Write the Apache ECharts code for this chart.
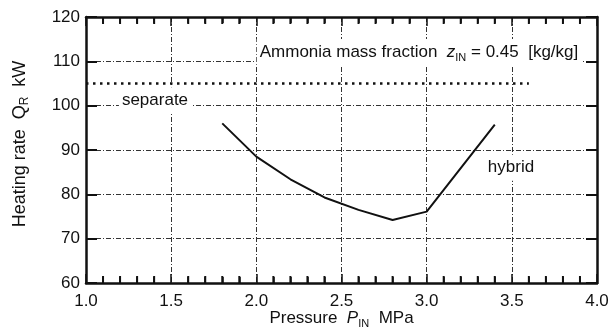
<!DOCTYPE html>
<html>
<head>
<meta charset="utf-8">
<script src="https://cdn.jsdelivr.net/npm/echarts@6/dist/echarts.min.js"></script>
<style>
  html, body { margin: 0; padding: 0; background: #fff; }
  #chart { width: 610px; height: 329px; }
</style>
</head>
<body>
<div id="chart"></div>
<script>
// hybrid curve
const pressure = [1.8, 2.0, 2.2, 2.4, 2.6, 2.8, 3.0, 3.4];
const hybridQ = [96, 88.5, 83.4, 79.3, 76.5, 74.2, 76.1, 95.7];

// separate case (constant)
const separateP = [1.0, 3.6];
const separateQ = [105, 105];

const xTicks = { min: 1.0, max: 4.0, step: 0.5 };
const yTicks = { min: 60, max: 120, step: 10 };
const minorTickP = [1.1, 1.2, 1.3, 1.4, 1.6, 1.7, 1.8, 1.9, 2.1, 2.2, 2.3, 2.4,
  2.6, 2.7, 2.8, 2.9, 3.1, 3.2, 3.3, 3.4, 3.6, 3.7, 3.8, 3.9];

const font = "'Liberation Sans', Arial, Helvetica, sans-serif";
const ink = "#111";

const chart = echarts.init(document.getElementById("chart"), null, { renderer: "canvas" });

const subRich = (size) => ({
  t: { fontFamily: font, fontSize: size, color: ink, verticalAlign: "middle", lineHeight: 22 },
  i: { fontFamily: font, fontSize: size, color: ink, fontStyle: "italic", verticalAlign: "middle", lineHeight: 22 },
  s: { fontFamily: font, fontSize: Math.round(size * 0.65), color: ink, verticalAlign: "bottom", lineHeight: 15 },
});

const noteLabel = (text, size) => ({
  show: true,
  position: "inside",
  formatter: text,
  color: ink,
  fontFamily: font,
  fontSize: size,
  lineHeight: 22,
  backgroundColor: "#fff",
  padding: [2, 3, 2, 3],
  rich: subRich(size),
});

const baseX = {
  type: "value",
  min: xTicks.min,
  max: xTicks.max,
  interval: xTicks.step,
  axisLine: { show: true, onZero: false, lineStyle: { color: ink, width: 2.5 } },
  axisTick: { show: true, inside: true, length: 9, lineStyle: { color: ink, width: 1.5 } },
  minorTick: { show: true, splitNumber: 5, length: 6, lineStyle: { color: ink, width: 1.5 } },
};

const baseY = {
  type: "value",
  min: yTicks.min,
  max: yTicks.max,
  interval: yTicks.step,
  axisLine: { show: true, onZero: false, lineStyle: { color: ink, width: 2.5 } },
  axisTick: { show: true, inside: true, length: 11, lineStyle: { color: ink, width: 2 } },
};

const dashGrid = { show: true, lineStyle: { color: "#333", width: 1, type: [5, 2, 1, 2] } };

// minor ticks as tiny bars standing on the frame
const minorTicks = (q, offset) => ({
  type: "scatter",
  silent: true,
  clip: false,
  z: 6,
  symbol: "rect",
  symbolSize: [2, 7],
  symbolOffset: [0, offset],
  itemStyle: { color: ink, opacity: 1 },
  data: minorTickP.map((p) => [p, q]),
});

chart.setOption({
  animation: false,
  backgroundColor: "#fff",
  grid: { left: 86, right: 13, top: 17, bottom: 46, containLabel: false, outerBoundsMode: "none" },
  xAxis: [
    {
      ...baseX,
      position: "bottom",
      axisLabel: {
        color: ink, fontFamily: font, fontSize: 17, margin: 10,
        formatter: (v) => v.toFixed(1),
      },
      splitLine: dashGrid,
      name: "{t|Pressure  }{i|P}{s|IN}{t|  MPa}",
      nameLocation: "middle",
      nameGap: 24,
      nameMoveOverlap: false,
      nameTextStyle: { rich: subRich(17) },
    },
    { ...baseX, position: "top", axisLabel: { show: false }, splitLine: { show: false } },
  ],
  yAxis: [
    {
      ...baseY,
      position: "left",
      axisLabel: { color: ink, fontFamily: font, fontSize: 17, margin: 6 },
      splitLine: dashGrid,
    },
    { ...baseY, position: "right", axisLabel: { show: false }, splitLine: { show: false } },
  ],
  graphic: [
    {
      type: "text",
      x: 20,
      y: 144,
      rotation: Math.PI / 2,
      style: {
        text: "{t|Heating rate  Q}{s|R}{t|  kW}",
        rich: subRich(18),
        align: "center",
        verticalAlign: "middle",
        fill: ink,
      },
    },
  ],
  series: [
    {
      name: "separate",
      type: "line",
      data: separateP.map((p, i) => [p, separateQ[i]]),
      showSymbol: false,
      lineStyle: { color: ink, width: 2.5, type: [2.5, 4.5], cap: "butt" },
      z: 3,
    },
    {
      name: "hybrid",
      type: "line",
      data: pressure.map((p, i) => [p, hybridQ[i]]),
      showSymbol: false,
      lineStyle: { color: ink, width: 2 },
      z: 4,
      markPoint: {
        symbol: "rect",
        symbolSize: 0,
        silent: true,
        data: [
          {
            coord: [2.955, 112.1],
            label: noteLabel("{t|Ammonia mass fraction  }{i|z}{s|IN}{t| = 0.45  [kg/kg]}", 17),
          },
          { coord: [1.405, 101.2], label: noteLabel("{t|separate}", 17) },
          { coord: [3.495, 86.0], label: noteLabel("{t|hybrid}", 17) },
        ],
      },
    },
    { name: "minor bottom", ...minorTicks(yTicks.min, -3.5) },
    { name: "minor top", ...minorTicks(yTicks.max, 3.5) },
  ],
});
</script>
</body>
</html>
